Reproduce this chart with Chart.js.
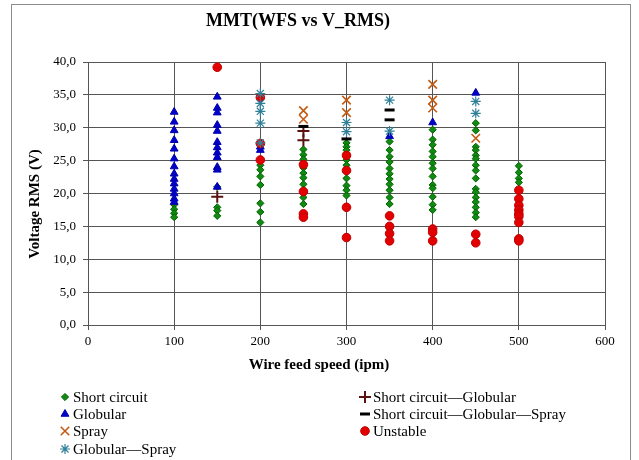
<!DOCTYPE html>
<html>
<head>
<meta charset="utf-8">
<script src="https://cdn.jsdelivr.net/npm/chart.js@4/dist/chart.umd.min.js"></script>
<style>
  body { margin: 0; background: #fff; }
  #wrap { width: 639px; height: 460px; position: relative; }
</style>
</head>
<body>
<div id="wrap"><canvas id="mmtChart" width="639" height="460"></canvas></div>
<script>
// wire feed speed levels (ipm), every series below is indexed by these
const wfsLevels = [100, 150, 200, 250, 300, 350, 400, 450, 500];

// V_RMS readings per level
const shortCircuit = [
  [18.3, 17.6, 17.0, 16.4],
  [21.0, 17.9, 17.4, 16.6],
  [24.3, 23.6, 22.6, 21.3, 18.5, 17.2, 15.6],
  [26.7, 25.9, 25.2, 23.9, 23.1, 22.4, 21.4, 20.5, 19.4, 18.4],
  [27.7, 27.1, 26.6, 25.1, 24.3, 23.5, 22.3, 21.2, 20.5, 19.7],
  [27.9, 26.6, 25.6, 24.8, 23.8, 23.0, 22.2, 21.4, 20.5, 19.4, 18.4],
  [29.7, 28.2, 27.4, 26.4, 25.6, 24.6, 23.8, 22.6, 21.3, 20.8, 19.5, 18.3, 17.5],
  [30.7, 29.6, 27.1, 26.6, 25.8, 25.3, 24.3, 23.5, 22.3, 20.7, 20.2, 19.4, 18.7, 17.9, 17.1, 16.4],
  [24.2, 23.2, 22.3, 21.7]
];
const globular = [
  [32.4, 30.9, 29.6, 28.1, 26.8, 25.3, 24.1, 23.0, 22.2, 21.5, 20.7, 20.0, 19.2, 18.7],
  [34.7, 33.0, 32.3, 30.4, 29.5, 27.8, 27.0, 26.2, 25.5, 24.0, 23.6, 21.0],
  [27.1, 26.6],
  [],
  [],
  [28.7],
  [30.8],
  [35.3],
  []
];
const spray = [[], [], [], [32.6, 31.3], [34.2, 32.3], [], [36.6, 34.2, 33.0], [28.4], []];
const globularSpray = [[], [], [35.2, 33.7, 32.5, 30.7, 27.7], [], [30.8, 29.4], [34.2, 29.5], [], [34.0, 32.2], []];
const scGlobular = [[], [19.5], [], [29.5, 28.1], [], [], [], [], []];
const scGlobularSpray = [[], [], [], [30.2], [28.3], [32.7, 31.2], [], [], []];
const unstable = [
  [],
  [39.2],
  [34.6, 27.6, 25.1],
  [24.4, 20.3, 16.9, 16.4],
  [25.8, 23.5, 17.9, 13.3],
  [16.6, 15.0, 13.9, 12.8],
  [14.6, 14.1, 12.8],
  [13.8, 12.5],
  [20.5, 19.2, 18.2, 17.5, 16.9, 16.5, 15.6, 13.1, 12.8]
];

const yTicks = [0, 5, 10, 15, 20, 25, 30, 35, 40];

function toPoints(groups) {
  const pts = [];
  groups.forEach((vals, i) => {
    vals.forEach(v => pts.push({ x: wfsLevels[i], y: v }));
  });
  return pts;
}

const serif = "'Liberation Serif', 'DejaVu Serif', serif";

// lower order = drawn on top
const datasets = [
  { label: 'Globular\u2014Spray', data: toPoints(globularSpray), pointStyle: 'star', pointRadius: 5,
    backgroundColor: '#31809a', borderColor: '#31809a', borderWidth: 1.2, order: 0 },
  { label: 'Unstable', data: toPoints(unstable), pointStyle: 'circle', pointRadius: 4.3,
    backgroundColor: '#e30000', borderColor: '#c00000', borderWidth: 1, order: 1 },
  { label: 'Short circuit\u2014Globular\u2014Spray', data: toPoints(scGlobularSpray), pointStyle: 'line', pointRadius: 5,
    backgroundColor: '#000', borderColor: '#000', borderWidth: 3, order: 2 },
  { label: 'Short circuit\u2014Globular', data: toPoints(scGlobular), pointStyle: 'cross', pointRadius: 6,
    backgroundColor: '#5c1010', borderColor: '#5c1010', borderWidth: 2, order: 3 },
  { label: 'Spray', data: toPoints(spray), pointStyle: 'crossRot', pointRadius: 6,
    backgroundColor: '#c55a11', borderColor: '#c55a11', borderWidth: 1.6, order: 4 },
  { label: 'Globular', data: toPoints(globular), pointStyle: 'triangle', pointRadius: 4.5,
    backgroundColor: '#0000cc', borderColor: '#0000aa', borderWidth: 1, order: 5 },
  { label: 'Short circuit', data: toPoints(shortCircuit), pointStyle: 'rectRot', pointRadius: 3.6,
    backgroundColor: '#118a11', borderColor: '#006400', borderWidth: 1, order: 6 }
];

// legend slots, Excel style: two columns at the bottom
const legendSlots = [
  ['Short circuit', 65, 397],
  ['Globular', 65, 414],
  ['Spray', 65, 431],
  ['Globular\u2014Spray', 65, 449],
  ['Short circuit\u2014Globular', 365, 397],
  ['Short circuit\u2014Globular\u2014Spray', 365, 414],
  ['Unstable', 365, 431]
];

const frameTexts = {
  title: 'MMT(WFS vs V_RMS)',
  xTitle: 'Wire feed speed (ipm)',
  yTitle: 'Voltage RMS (V)'
};

const framePlugin = {
  id: 'frame',
  beforeDraw(chart) {
    const ctx = chart.ctx;
    ctx.save();
    ctx.fillStyle = '#fff';
    ctx.fillRect(0, 0, chart.width, chart.height);
    ctx.strokeStyle = '#8c8c8c';
    ctx.lineWidth = 1;
    ctx.strokeRect(11.5, 4.5, 619, 470);
    ctx.restore();
  },
  afterDraw(chart) {
    const ctx = chart.ctx;
    ctx.save();
    ctx.fillStyle = '#000';
    ctx.textAlign = 'center';
    ctx.textBaseline = 'middle';
    ctx.font = 'bold 18px ' + serif;
    ctx.fillText(frameTexts.title, 298, 21);
    ctx.font = 'bold 15px ' + serif;
    ctx.fillText(frameTexts.xTitle, 319, 365);
    ctx.translate(35, 204);
    ctx.rotate(-Math.PI / 2);
    ctx.fillText(frameTexts.yTitle, 0, 0);
    ctx.restore();

    ctx.save();
    ctx.font = '15px ' + serif;
    ctx.textBaseline = 'middle';
    legendSlots.forEach(([label, x, y]) => {
      const ds = chart.data.datasets.find(d => d.label === label);
      ctx.fillStyle = ds.backgroundColor;
      ctx.strokeStyle = ds.borderColor;
      ctx.lineWidth = ds.borderWidth;
      Chart.helpers.drawPoint(ctx, { pointStyle: ds.pointStyle, radius: ds.pointRadius, borderWidth: ds.borderWidth }, x, y);
      ctx.fillStyle = '#000';
      ctx.fillText(label, x + 8, y + 1);
    });
    ctx.restore();
  }
};

new Chart(document.getElementById('mmtChart'), {
  type: 'scatter',
  data: { datasets },
  plugins: [framePlugin],
  options: {
    responsive: false,
    animation: false,
    layout: { padding: { left: 12, right: 34, top: 62, bottom: 85 } },
    plugins: {
      legend: { display: false },
      tooltip: { enabled: false },
      title: { display: false }
    },
    scales: {
      x: {
        type: 'linear',
        min: 0,
        max: 600,
        ticks: { stepSize: 100, color: '#000', font: { family: serif, size: 13 }, padding: 4 },
        grid: { color: '#555', lineWidth: 1, tickLength: 5 },
        border: { color: '#555' },
        afterFit(scale) { scale.height = 50; }
      },
      y: {
        min: 0,
        max: 40,
        afterBuildTicks(scale) { scale.ticks = yTicks.map(v => ({ value: v })); },
        ticks: {
          color: '#000',
          font: { family: serif, size: 13 },
          padding: 7,
          callback: v => v.toFixed(1).replace('.', ',')
        },
        grid: { color: '#555', lineWidth: 1, tickLength: 5 },
        border: { color: '#555' },
        afterFit(scale) { scale.width = 76; }
      }
    }
  }
});
</script>
</body>
</html>
